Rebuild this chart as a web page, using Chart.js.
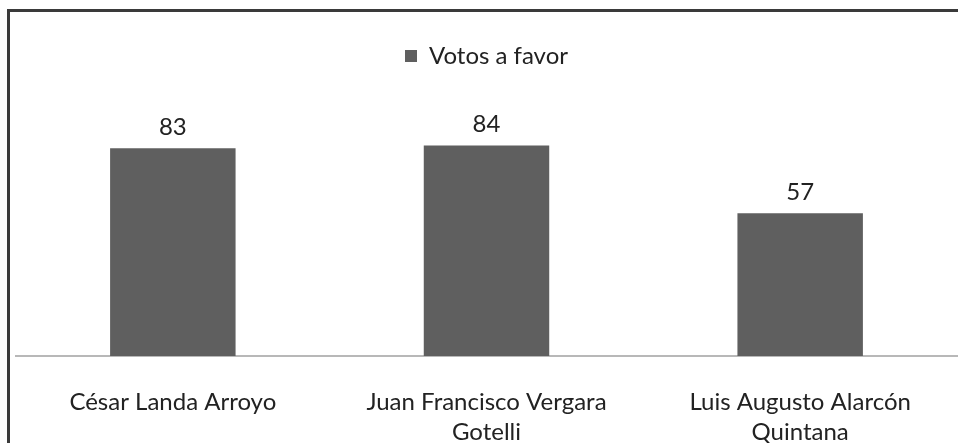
<!DOCTYPE html>
<html>
<head>
<meta charset="utf-8">
<script src="https://cdn.jsdelivr.net/npm/chart.js@4.4.0/dist/chart.umd.min.js"></script>
<style>
  html, body { margin: 0; padding: 0; background: #fff; }
  #wrap { position: relative; width: 958px; height: 443px; overflow: hidden; }
  #frame { position: absolute; left: 7px; top: 9px; width: 1000px; height: 1000px;
           border-left: 3px solid #3a3a3a; border-top: 3px solid #3a3a3a; }
  canvas { position: absolute; left: 0; top: 0; }
</style>
</head>
<body>
<div id="wrap">
  <div id="frame"></div>
  <canvas id="chart" width="958" height="443"></canvas>
</div>
<script>
const categories = [
    ["César Landa Arroyo"],
    ["Juan Francisco Vergara", "Gotelli"],
    ["Luis Augusto Alarcón", "Quintana"]
];
const votos = [83, 84, 57];
const seriesName = "Votos a favor";

const fontFamily = "Lato, 'Open Sans', sans-serif";

// etiquetas encima de cada barra
const barLabels = {
    id: "barLabels",
    afterDatasetsDraw(chart) {
        const ctx = chart.ctx;
        const meta = chart.getDatasetMeta(0);
        ctx.save();
        ctx.font = "24px " + fontFamily;
        ctx.fillStyle = "#222";
        ctx.textAlign = "center";
        ctx.textBaseline = "middle";
        meta.data.forEach(function (bar, i) {
            ctx.fillText(chart.data.datasets[0].data[i], bar.x, bar.y - 21);
        });
        ctx.restore();
    }
};

new Chart(document.getElementById("chart").getContext("2d"), {
    type: "bar",
    data: {
        labels: categories,
        datasets: [{
            label: seriesName,
            data: votos,
            backgroundColor: "#5f5f5f",
            borderWidth: 0,
            barPercentage: 0.4,
            categoryPercentage: 1
        }]
    },
    options: {
        responsive: false,
        animation: false,
        layout: { padding: { left: 16, right: 1, top: 34, bottom: 0 } },
        plugins: {
            legend: {
                position: "top",
                labels: {
                    boxWidth: 12,
                    boxHeight: 12,
                    padding: 10,
                    color: "#222",
                    font: { family: fontFamily, size: 24 }
                }
            },
            tooltip: { enabled: false }
        },
        scales: {
            x: {
                grid: { display: false, drawTicks: false },
                border: { display: true, color: "#b8b8b8", width: 2 },
                afterFit: function (scale) { scale.height = 87; },
                ticks: {
                    color: "#222",
                    padding: 31,
                    maxRotation: 0,
                    font: { family: fontFamily, size: 24, lineHeight: 1.25 }
                }
            },
            y: {
                display: false,
                min: 0,
                max: 111
            }
        }
    },
    plugins: [barLabels]
});
</script>
</body>
</html>
